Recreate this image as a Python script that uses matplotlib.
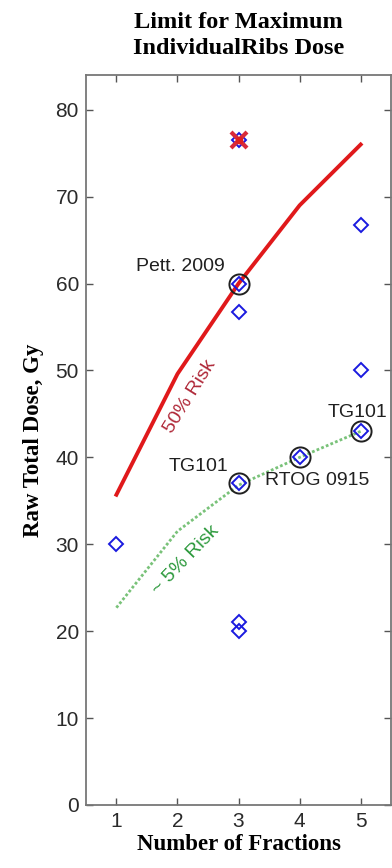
import numpy as np
import matplotlib.pyplot as plt

# curves (read at each fraction count)
frac = [1, 2, 3, 4, 5]
risk50 = [35.7, 49.6, 60.0, 69.0, 76.0]
risk5 = [22.7, 31.5, 36.8, 40.0, 43.0]

# published limits (blue diamonds)
pts_x = [1, 3, 3, 3, 3, 3, 3, 4, 5, 5, 5]
pts_y = [30, 76.5, 60, 56.7, 37, 21, 20, 40, 66.7, 50, 43]

# circled references
circ_x = [3, 3, 4, 5]
circ_y = [60, 37, 40, 43]

# crossed-out point
cross_x = [3]
cross_y = [76.5]

plt.figure(figsize=(3.92, 8.68), dpi=100)
ax = plt.axes([0.219, 0.0726, 0.779, 0.841])

ax.plot(frac, risk50, color='#e0191b', lw=2.8, zorder=2)
ax.plot(frac, risk5, color='#79c279', lw=2.0, ls=(0, (1, 0.8)), zorder=2)
ax.plot(pts_x, pts_y, 'D', ms=7, mfc='none', mec='#1a1adf', mew=1.4, zorder=3)
ax.plot(circ_x, circ_y, 'o', ms=14.5, mfc='none', mec='#202020', mew=1.4, zorder=4)
ax.plot(cross_x, cross_y, 'x', ms=12, color='#d92a3a', mew=3, zorder=5)
ax.plot(cross_x, cross_y, 'o', ms=4.5, color='#e02020', zorder=5)

tf = dict(family='Liberation Sans', fontsize=14)
ax.text(2.78, 62.0, 'Pett. 2009', ha='right', va='center', color='#202020', **tf)
ax.text(2.84, 38.9, 'TG101', ha='right', va='center', color='#202020', **tf)
ax.text(3.43, 37.3, 'RTOG 0915', ha='left', va='center', color='#202020', **tf)
ax.text(5.44, 45.2, 'TG101', ha='right', va='center', color='#202020', **tf)
ax.text(2.2, 47.0, '50% Risk', ha='center', va='center', rotation=58,
        color='#b02a3a', **tf)
ax.text(2.14, 28.2, '~ 5% Risk', ha='center', va='center', rotation=46,
        color='#2e9a3e', **tf)

ax.set_xlim(0.5, 5.5)
ax.set_ylim(0, 84)
ax.set_xticks([1, 2, 3, 4, 5])
ax.set_yticks(np.arange(0, 81, 10))
ax.tick_params(direction='in', top=True, right=True, length=5, width=1,
               color='#555555', labelsize=15, pad=5)
for lab in ax.get_xticklabels() + ax.get_yticklabels():
    lab.set_family('Liberation Sans')
    lab.set_color('#2a2a2a')
for s in ax.spines.values():
    s.set_color('#777777')
    s.set_linewidth(1.3)

ax.set_title('Limit for Maximum\nIndividualRibs Dose', family='Liberation Serif',
             fontweight='bold', fontsize=17.5, pad=15, linespacing=1.3)
ax.set_xlabel('Number of Fractions', family='Liberation Serif',
              fontweight='bold', fontsize=16.5, labelpad=2)
ax.set_ylabel('Raw Total Dose, Gy', family='Liberation Serif',
              fontweight='bold', fontsize=16.5, labelpad=8)

plt.savefig('out.png', dpi=100)
